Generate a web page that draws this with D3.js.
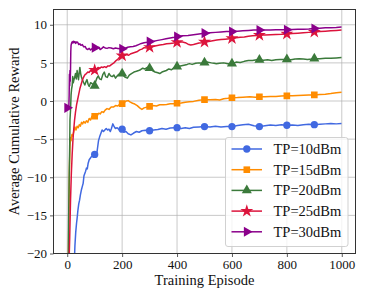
<!DOCTYPE html>
<html>
<head>
<meta charset="utf-8">
<script src="https://cdn.jsdelivr.net/npm/d3@7"></script>
<style>
  body { margin: 0; background: #fff; }
  svg { font-family: "Liberation Serif", "DejaVu Serif", serif; }
</style>
</head>
<body>
<svg id="chart" width="366" height="299"></svg>
<script>
// [episode, average cumulative reward]
const tp10 = [[0,-40],[25,-22],[28,-19],[31,-17.2],[34,-16],[36,-15.4],[39,-14.3],[42,-13.5],[45,-13],[48,-12.3],[52,-11.6],[55,-11.2],[58,-10.8],[61,-9.8],[64,-9.5],[67,-9.2],[70,-8.8],[73,-8.9],[76,-8.2],[80,-7.7],[84,-7.5],[88,-7.3],[92,-7.2],[96,-6.9],[100,-7.0],[104,-7.1],[108,-6.8],[111,-6.0],[114,-5.2],[118,-4.7],[122,-4.3],[127,-3.8],[132,-4.0],[137,-3.8],[142,-3.6],[147,-3.8],[152,-3.7],[157,-4.0],[161,-3.6],[166,-3.0],[170,-3.3],[175,-3.6],[182,-3.5],[190,-3.8],[200,-3.7],[206,-4.1],[214,-4.0],[222,-4.3],[232,-4.45],[242,-4.2],[252,-4.0],[262,-4.1],[272,-3.9],[285,-3.85],[300,-3.9],[315,-3.8],[330,-3.75],[345,-3.6],[360,-3.7],[375,-3.55],[390,-3.5],[400,-3.5],[415,-3.6],[430,-3.5],[445,-3.6],[460,-3.45],[480,-3.4],[500,-3.36],[520,-3.4],[540,-3.3],[560,-3.4],[580,-3.35],[600,-3.36],[620,-3.2],[640,-3.1],[660,-3.05],[680,-3.25],[700,-3.36],[720,-3.25],[740,-3.15],[760,-3.2],[780,-3.1],[800,-3.18],[820,-3.15],[840,-3.2],[860,-3.1],[880,-3.05],[900,-3.1],[920,-3.05],[940,-3.0],[960,-2.95],[980,-3.0],[999,-2.95]]

const tp15 = [[0,-35],[4,-22],[6,-15],[8,-9],[10,-6],[12,-4.8],[14,-5.2],[17,-4.4],[20,-4.6],[24,-4.0],[28,-3.4],[32,-3.8],[36,-3.3],[40,-3.5],[44,-3.1],[48,-3.3],[52,-2.8],[56,-3.0],[60,-2.7],[65,-2.9],[70,-2.6],[75,-2.8],[80,-2.3],[85,-2.5],[90,-2.0],[95,-2.2],[100,-2.0],[105,-1.8],[110,-1.9],[115,-1.6],[120,-1.7],[126,-1.4],[132,-1.5],[138,-1.2],[145,-1.0],[152,-1.1],[160,-0.8],[168,-0.8],[176,-0.6],[184,-0.65],[192,-0.4],[200,-0.35],[208,-0.2],[215,0.0],[222,0.05],[230,-0.15],[238,-0.3],[246,-0.4],[255,-0.6],[264,-0.9],[272,-1.1],[280,-0.9],[290,-0.8],[300,-0.7],[312,-0.6],[325,-0.65],[337,-0.5],[350,-0.5],[362,-0.45],[375,-0.35],[388,-0.35],[400,-0.3],[415,-0.25],[430,-0.15],[445,-0.1],[460,-0.05],[480,0.1],[500,0.18],[520,0.15],[540,0.2],[555,0.13],[570,0.3],[585,0.35],[600,0.42],[620,0.45],[640,0.5],[665,0.55],[685,0.5],[700,0.55],[720,0.55],[740,0.6],[760,0.6],[780,0.65],[800,0.68],[820,0.7],[840,0.72],[860,0.75],[880,0.78],[900,0.8],[920,0.85],[940,0.9],[960,0.98],[980,1.08],[999,1.15]]

const tp20 = [[0,-40],[3,-25],[5,-16],[7,-10],[9,-6],[10,-2.5],[12,-1.2],[14,0.8],[16,1.6],[18,2.0],[20,3.2],[22,2.4],[24,2.7],[27,3.1],[30,3.6],[33,2.9],[36,4.0],[39,3.3],[41,2.8],[44,3.8],[46,4.4],[49,3.6],[52,3.1],[56,2.7],[60,2.4],[64,2.1],[68,2.5],[72,2.8],[76,2.2],[80,1.9],[85,2.4],[90,2.3],[95,2.1],[100,2.0],[104,2.6],[108,3.0],[113,3.3],[118,2.9],[124,2.8],[130,3.5],[135,3.8],[140,3.2],[146,3.1],[152,3.6],[158,3.3],[164,3.2],[170,3.4],[176,3.0],[182,3.3],[188,3.5],[194,3.6],[200,3.6],[206,3.3],[212,3.1],[219,3.0],[226,3.4],[234,3.6],[243,3.8],[252,3.9],[260,4.0],[267,4.1],[275,4.3],[283,4.2],[292,4.4],[300,4.3],[310,4.0],[320,3.8],[330,3.7],[337,3.6],[345,3.8],[353,3.9],[361,4.0],[370,4.2],[380,4.1],[390,4.4],[400,4.5],[412,4.6],[425,4.7],[437,4.8],[445,4.9],[455,4.8],[468,4.95],[480,5.0],[490,4.95],[500,5.05],[512,5.1],[525,5.0],[535,4.95],[543,4.9],[555,4.95],[570,5.0],[585,4.9],[600,4.9],[615,5.1],[630,5.05],[645,5.2],[660,5.3],[675,5.3],[690,5.4],[700,5.4],[715,5.35],[730,5.4],[745,5.3],[760,5.4],[775,5.45],[790,5.45],[800,5.45],[815,5.4],[830,5.5],[845,5.55],[860,5.5],[875,5.45],[890,5.5],[900,5.55],[920,5.55],[940,5.6],[960,5.6],[980,5.65],[999,5.7]]

const tp25 = [[0,-40],[6,-22],[9,-18],[12,-13],[15,-9.5],[18,-7],[21,-5],[24,-3.6],[27,-2.4],[30,-1.5],[34,-0.5],[38,0.2],[42,0.9],[46,1.6],[50,2.1],[54,2.6],[58,3.0],[62,3.3],[66,3.5],[70,3.6],[75,3.8],[80,3.75],[85,4.0],[90,3.9],[95,4.1],[100,4.05],[106,4.2],[112,4.4],[118,4.3],[124,4.45],[130,4.4],[136,4.5],[142,4.4],[148,4.6],[155,4.6],[162,4.8],[170,5.0],[178,5.3],[185,5.5],[192,5.8],[200,5.95],[208,6.0],[216,6.1],[224,6.0],[232,6.2],[240,6.3],[248,6.4],[256,6.5],[264,6.7],[272,6.8],[280,7.0],[290,6.95],[300,7.05],[312,7.15],[324,7.25],[337,7.35],[350,7.4],[362,7.5],[375,7.55],[388,7.6],[400,7.7],[410,7.75],[420,7.75],[430,7.65],[440,7.45],[450,7.35],[460,7.4],[470,7.5],[480,7.6],[490,7.65],[500,7.75],[515,7.8],[530,7.9],[545,8.0],[560,8.05],[575,8.1],[590,8.15],[600,8.2],[615,8.3],[630,8.35],[645,8.4],[660,8.5],[675,8.55],[690,8.6],[700,8.64],[720,8.65],[740,8.7],[760,8.72],[780,8.75],[800,8.8],[820,8.85],[840,8.9],[860,8.95],[880,9.0],[900,9.05],[920,9.1],[940,9.15],[960,9.2],[980,9.25],[999,9.3]]

const tp30 = [[0,-0.9],[2,-0.85],[4,-0.8],[6,-0.7],[7,0.8],[8,3.5],[9,2.0],[10,4.0],[11,2.6],[12,4.1],[13,6.5],[14,7.3],[16,7.6],[18,7.75],[20,7.6],[22,7.85],[25,7.65],[28,7.8],[31,7.55],[34,7.75],[38,7.7],[42,7.4],[46,7.5],[50,7.3],[55,7.4],[60,7.1],[65,7.15],[70,6.85],[75,6.75],[80,6.9],[85,6.7],[90,6.85],[95,6.95],[100,7.0],[105,6.85],[110,6.9],[115,7.05],[120,6.75],[126,6.9],[132,7.1],[138,6.95],[145,6.9],[152,7.0],[160,6.95],[168,6.85],[176,6.95],[184,6.9],[192,6.85],[200,6.85],[210,6.9],[220,7.05],[230,7.1],[240,7.15],[250,7.25],[260,7.4],[270,7.55],[280,7.65],[290,7.7],[300,7.8],[315,7.85],[330,7.95],[345,8.05],[360,8.15],[375,8.25],[390,8.35],[400,8.45],[420,8.55],[440,8.6],[460,8.7],[480,8.8],[500,8.9],[520,8.95],[540,9.0],[560,9.05],[580,9.1],[600,9.1],[620,9.15],[640,9.2],[660,9.25],[680,9.3],[700,9.3],[720,9.3],[740,9.32],[760,9.33],[780,9.35],[800,9.35],[820,9.38],[840,9.4],[860,9.42],[880,9.45],[900,9.5],[920,9.55],[940,9.6],[960,9.62],[980,9.65],[999,9.7]]

const labels = ["TP=10dBm", "TP=15dBm", "TP=20dBm", "TP=25dBm", "TP=30dBm"]
const xTicks = [0, 200, 400, 600, 800, 1000]
const yTicks = [-20, -15, -10, -5, 0, 5, 10]

const seriesList = [
  { name: labels[0], data: tp10, color: "#4169e1", symbol: d3.symbolCircle, size: 42, rot: 0 },
  { name: labels[1], data: tp15, color: "#ff8c00", symbol: d3.symbolSquare, size: 44, rot: 0 },
  { name: labels[2], data: tp20, color: "#3b7a3b", symbol: d3.symbolTriangle, size: 44, rot: 0 },
  { name: labels[3], data: tp25, color: "#dc143c", symbol: d3.symbolStar, size: 52, rot: 0 },
  { name: labels[4], data: tp30, color: "#8b008b", symbol: d3.symbolTriangle, size: 44, rot: 90 }
]

const svg = d3.select("#chart")
const plotLeft = 53.5, plotRight = 355.5, plotTop = 9.5, plotBottom = 253.5

const x = d3.scaleLinear().domain([-50, 1050]).range([plotLeft, plotRight])
const y = d3.scaleLinear().domain([-20, 12]).range([plotBottom, plotTop])

// grid
svg.append("g")
  .selectAll("line")
  .data(xTicks)
  .enter().append("line")
  .attr("x1", d => x(d)).attr("x2", d => x(d))
  .attr("y1", plotTop).attr("y2", plotBottom)
  .attr("stroke", "#b0b0b0").attr("stroke-width", 0.9).attr("opacity", 0.75)
svg.append("g")
  .selectAll("line")
  .data(yTicks)
  .enter().append("line")
  .attr("x1", plotLeft).attr("x2", plotRight)
  .attr("y1", d => y(d)).attr("y2", d => y(d))
  .attr("stroke", "#b0b0b0").attr("stroke-width", 0.9).attr("opacity", 0.75)

svg.append("clipPath").attr("id", "clip")
  .append("rect")
  .attr("x", plotLeft).attr("y", plotTop)
  .attr("width", plotRight - plotLeft).attr("height", plotBottom - plotTop)

const line = d3.line().x(d => x(d[0])).y(d => y(d[1]))
const plot = svg.append("g").attr("clip-path", "url(#clip)")

seriesList.forEach(s => {
  plot.append("path")
    .datum(s.data)
    .attr("d", line)
    .attr("fill", "none")
    .attr("stroke", s.color)
    .attr("stroke-width", 1.5)
    .attr("stroke-linejoin", "round")

  // a marker every 100 episodes
  plot.selectAll(null)
    .data(s.data.filter(d => d[0] % 100 === 0 && d[0] < 1000))
    .enter().append("path")
    .attr("d", d3.symbol().type(s.symbol).size(s.size))
    .attr("transform", d => `translate(${x(d[0])},${y(d[1])}) rotate(${s.rot})`)
    .attr("fill", s.color)
})

// axes
const fmt = d => d < 0 ? "\u2212" + Math.abs(d) : String(d)
const xAxis = svg.append("g")
  .attr("transform", `translate(0,${plotBottom})`)
  .call(d3.axisBottom(x).tickValues(xTicks).tickFormat(fmt).tickSizeOuter(0).tickSize(3.5).tickPadding(3))
const yAxis = svg.append("g")
  .attr("transform", `translate(${plotLeft},0)`)
  .call(d3.axisLeft(y).tickValues(yTicks).tickFormat(fmt).tickSizeOuter(0).tickSize(3.5).tickPadding(3))

for (const ax of [xAxis, yAxis]) {
  ax.select(".domain").remove()
  ax.selectAll("line").attr("stroke", "#333").attr("stroke-width", 0.8)
  ax.selectAll("text")
    .attr("fill", "#111")
    .style("font-size", "13px")
    .style("font-family", "Liberation Serif")
}

svg.append("rect")
  .attr("x", plotLeft).attr("y", plotTop)
  .attr("width", plotRight - plotLeft).attr("height", plotBottom - plotTop)
  .attr("fill", "none")
  .attr("stroke", "#333").attr("stroke-width", 1)

svg.append("text")
  .attr("x", (plotLeft + plotRight) / 2).attr("y", 285)
  .attr("text-anchor", "middle")
  .style("font-size", "14.5px")
  .attr("fill", "#111")
  .text("Training Episode")

svg.append("text")
  .attr("transform", `translate(19,${(plotTop + plotBottom) / 2}) rotate(-90)`)
  .attr("text-anchor", "middle")
  .style("font-size", "14.5px")
  .attr("fill", "#111")
  .text("Average Cumulative Reward")

// legend
const legend = svg.append("g")
legend.append("rect")
  .attr("x", 225.5).attr("y", 137.5)
  .attr("width", 122.5).attr("height", 109)
  .attr("rx", 2.5)
  .attr("fill", "#fff").attr("fill-opacity", 0.8)
  .attr("stroke", "#cccccc").attr("stroke-width", 0.9)

seriesList.forEach((s, i) => {
  const ly = 149 + i * 20.7
  const g = legend.append("g")
  g.append("line")
    .attr("x1", 231.5).attr("x2", 262)
    .attr("y1", ly).attr("y2", ly)
    .attr("stroke", s.color).attr("stroke-width", 1.5)
  g.append("path")
    .attr("d", d3.symbol().type(s.symbol).size(s.size))
    .attr("transform", `translate(246.8,${ly}) rotate(${s.rot})`)
    .attr("fill", s.color)
  g.append("text")
    .attr("x", 273.5).attr("y", ly + 5)
    .style("font-size", "14.5px")
    .attr("fill", "#111")
    .text(s.name)
})
</script>
</body>
</html>
